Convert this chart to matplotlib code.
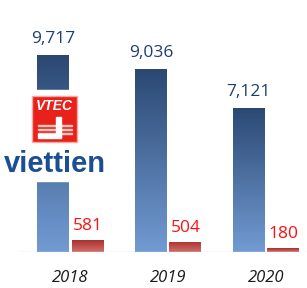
import matplotlib.pyplot as plt
import matplotlib.colors as mcolors
import numpy as np
from matplotlib.patches import Rectangle

YEARS = ["2018", "2019", "2020"]
REVENUE = [9717, 9036, 7121]
PROFIT = [581, 504, 180]

BLUE_TOP, BLUE_BOTTOM = "#2B4872", "#729BD3"
RED_TOP, RED_BOTTOM = "#A8312F", "#D26E6B"
BLUE_TEXT = "#1F3D73"
RED_TEXT = "#FF1010"

W, H = 307, 288
fig = plt.figure(figsize=(W / 100, H / 100), dpi=100)
ax = fig.add_axes([0, 36 / H, 1, 1 - 36 / H])
ax.axis("off")

x = np.arange(len(YEARS))
bw = 0.327
off = bw / 2 + 0.012


def gradient_bars(xs, vals, top, bottom):
    cmap = mcolors.LinearSegmentedColormap.from_list("g", [bottom, top])
    grad = np.linspace(0, 1, 256).reshape(-1, 1)
    bars = ax.bar(xs, vals, width=bw, color="none", edgecolor="none")
    for b in bars:
        x0, y0 = b.get_x(), b.get_y()
        im = ax.imshow(grad, cmap=cmap, origin="lower", aspect="auto",
                       extent=[x0, x0 + b.get_width(), y0, y0 + b.get_height()])
        im.set_clip_path(b)
    return bars


gradient_bars(x - off, REVENUE, BLUE_TOP, BLUE_BOTTOM)
gradient_bars(x + off, PROFIT, RED_TOP, RED_BOTTOM)
ax.set_xlim(-0.721, 2.419)
ax.set_ylim(0, 12450)

ax.axhline(0, xmin=20 / W, xmax=1, color="#D9D9D9", lw=1)

for xi, v in zip(x - off, REVENUE):
    ax.annotate(f"{v:,}", (xi, v), xytext=(0, 6), textcoords="offset points",
                ha="center", va="bottom", fontsize=12.5, color=BLUE_TEXT,
                family="Open Sans")
for xi, v in zip(x + off, PROFIT):
    ax.annotate(f"{v:,}", (xi, v), xytext=(0, 4.5), textcoords="offset points",
                ha="center", va="bottom", fontsize=12.5, color=RED_TEXT,
                family="Open Sans")
for xi, lab in zip(x, YEARS):
    ax.annotate(lab, (xi, 0), xytext=(0, -13), textcoords="offset points",
                ha="center", va="top", fontsize=12, style="italic",
                color="#1A1A1A", family="Open Sans")

# logo (white panel over first bar)
def fx(px):
    return px / W


def fy(py):
    return 1 - py / H


fig.patches.append(Rectangle((fx(0), fy(181)), fx(110), 91 / H,
                             transform=fig.transFigure, color="white", zorder=5))
fig.patches.append(Rectangle((fx(32), fy(142)), fx(45), 46 / H,
                             transform=fig.transFigure, facecolor="#E8221B",
                             edgecolor="#F4A9A0", lw=1, zorder=6))
for py in [126, 130, 134]:
    fig.patches.append(Rectangle((fx(38), fy(py)), fx(34), 1.3 / H,
                                 transform=fig.transFigure, color="#F8C8C0", zorder=7))
fig.patches.append(Rectangle((fx(56), fy(137)), fx(5), 20 / H,
                             transform=fig.transFigure, color="white", zorder=7))
fig.patches.append(Rectangle((fx(38), fy(138)), fx(23), 4 / H,
                             transform=fig.transFigure, color="white", zorder=7))
fig.text(fx(54.5), fy(106), "VTEC", ha="center", va="center", fontsize=10,
         weight="bold", style="italic", color="white", zorder=8,
         family="Liberation Sans")
fig.text(fx(55), fy(164), "viettien", ha="center", va="center", fontsize=21,
         weight="bold", color="#1B4E94", zorder=8, family="Liberation Sans")

fig.savefig("out.png", dpi=100)
